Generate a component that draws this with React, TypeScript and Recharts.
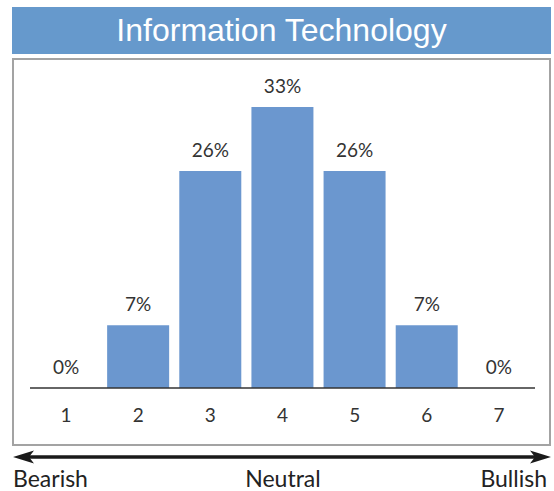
import React from 'react';
import { ComposedChart, Bar, Line, XAxis, YAxis, LabelList } from 'recharts';

const categories = ['1', '2', '3', '4', '5', '6', '7'];
const values = [0, 7.45, 25.8, 33.4, 25.8, 7.45, 0];
const valueLabels = ['0%', '7%', '26%', '33%', '26%', '7%', '0%'];
const title = 'Information Technology';
const scaleLabels = ['Bearish', 'Neutral', 'Bullish'];

const data = categories.map((c, i) => ({ cat: c, value: values[i], label: valueLabels[i] }));

const FONT = 'Lato, "Open Sans", sans-serif';

export default function App() {
  return (
    <div style={{ position: 'absolute', left: 0, top: 0, width: 554, height: 491, background: '#fff', overflow: 'hidden' }}>
      <div
        style={{
          position: 'absolute', left: 12, top: 7, width: 539, height: 47,
          background: '#6699cc', color: '#fff', fontFamily: '"Liberation Sans", Arial, sans-serif',
          fontSize: 32, lineHeight: '46px', textAlign: 'center',
        }}
      >
        {title}
      </div>
      <div
        style={{
          position: 'absolute', left: 12, top: 58, width: 539, height: 388,
          boxSizing: 'border-box', border: '2px solid #a3a3a3',
        }}
      />
      <div style={{ position: 'absolute', left: 0, top: 0 }}>
        <ComposedChart
          width={554}
          height={491}
          data={data}
          margin={{ top: 51.6, right: 19, bottom: 73, left: 30 }}
          barCategoryGap={5}
        >
          <XAxis
            dataKey="cat"
            height={30}
            tickLine={false}
            tickMargin={15}
            axisLine={{ stroke: '#333', strokeWidth: 1.5 }}
            tick={{ fill: '#333', fontSize: 19, fontFamily: FONT }}
            interval={0}
          />
          <YAxis hide domain={[0, 40]} />
          <Bar dataKey="value" fill="#6b97cf" isAnimationActive={false} />
          <Line
            dataKey="value"
            stroke="none"
            dot={false}
            activeDot={false}
            isAnimationActive={false}
            legendType="none"
          >
            <LabelList
              dataKey="label"
              position="top"
              offset={14}
              fill="#333"
              style={{ fontSize: 19, fontFamily: FONT }}
            />
          </Line>
        </ComposedChart>
      </div>
      <svg width={554} height={491} style={{ position: 'absolute', left: 0, top: 0 }}>
        <line x1={26} y1={457} x2={538} y2={457} stroke="#1a1a1a" strokeWidth={3.5} />
        <polygon points="13,457 34,450.5 29,457 34,463.5" fill="#1a1a1a" />
        <polygon points="551,457 530,450.5 535,457 530,463.5" fill="#1a1a1a" />
        <text x={13} y={486.5} fontFamily={FONT} fontSize={23} fill="#222">{scaleLabels[0]}</text>
        <text x={283} y={486.5} fontFamily={FONT} fontSize={23} fill="#222" textAnchor="middle">{scaleLabels[1]}</text>
        <text x={547} y={486.5} fontFamily={FONT} fontSize={23} fill="#222" textAnchor="end">{scaleLabels[2]}</text>
      </svg>
    </div>
  );
}
